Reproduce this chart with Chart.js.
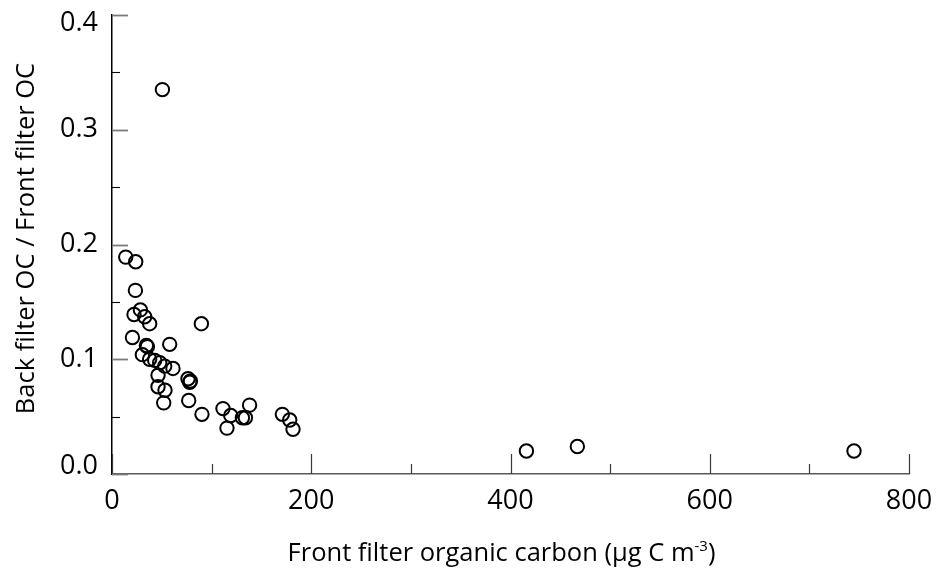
<!DOCTYPE html>
<html>
<head>
<meta charset="utf-8">
<script src="https://cdn.jsdelivr.net/npm/chart.js@4.4.1/dist/chart.umd.min.js"></script>
<style>
  html, body { margin: 0; padding: 0; background: #ffffff; }
  #wrap { width: 936px; height: 583px; }
</style>
</head>
<body>
<div id="wrap"><canvas id="c" width="936" height="583"></canvas></div>
<script>
// Front filter OC (µg C m-3) and back/front OC ratio for each sample
const frontOC = [13.8, 23.8, 23.5, 28.5, 22.1, 32.8, 37.8, 89.7, 20.5, 34.5,
                 35.5, 57.9, 30.5, 37.8, 42.9, 47.9, 52.9, 61.2, 46.2, 76.3,
                 78.7, 78.0, 46.2, 53.2, 51.9, 77.0, 90.3, 111.4, 119.2, 115.4,
                 130.9, 133.9, 138.1, 171.0, 178.4, 181.7, 50.6, 416.0, 467.1, 744.8];
const ocRatio = [0.189, 0.185, 0.160, 0.143, 0.139, 0.137, 0.131, 0.131, 0.119, 0.112,
                 0.111, 0.113, 0.104, 0.100, 0.099, 0.097, 0.094, 0.092, 0.086, 0.083,
                 0.081, 0.080, 0.076, 0.073, 0.062, 0.064, 0.052, 0.057, 0.051, 0.040,
                 0.049, 0.049, 0.060, 0.052, 0.047, 0.039, 0.335, 0.020, 0.024, 0.020];

const xLabelTicks = [0, 200, 400, 600, 800];
const yLabelTicks = [0.0, 0.1, 0.2, 0.3, 0.4];
const xMarkStep = 100;
const yMarkStep = 0.05;

const xTitleMain = 'Front filter organic carbon (µg C m';
const xTitleSup = '-3';
const xTitleEnd = ')';
const yTitle = 'Back filter OC / Front filter OC';

const FONT = '"Open Sans", "Noto Sans", sans-serif';
const FONT_SIZE = 27;
const TITLE_SIZE = 25.5;

// inward tick marks, y tick labels and both axis titles
const axisDecor = {
  id: 'axisDecor',
  afterDraw(chart) {
    const ctx = chart.ctx;
    const xs = chart.scales.x, ys = chart.scales.y;
    const area = chart.chartArea;
    ctx.save();

    // x-axis tick marks pointing up into the plot
    for (let v = xs.min; v <= xs.max + 1e-9; v += xMarkStep) {
      const px = Math.round(xs.getPixelForValue(v)) + 0.5;
      const major = Math.abs(v % 200) < 1e-6;
      ctx.strokeStyle = '#3a3a3a';
      ctx.lineWidth = 1.2;
      ctx.beginPath();
      ctx.moveTo(px, area.bottom);
      ctx.lineTo(px, area.bottom - (major ? 20 : 10));
      ctx.stroke();
    }

    // y-axis tick marks pointing right into the plot
    for (let i = 0; i * yMarkStep <= ys.max + 1e-9; i++) {
      const v = i * yMarkStep;
      const py = Math.round(ys.getPixelForValue(v)) + 0.5;
      const major = i % 2 === 0;
      ctx.strokeStyle = major ? '#7a7a7a' : '#000000';
      ctx.lineWidth = major ? 1.8 : 1.1;
      ctx.beginPath();
      ctx.moveTo(area.left, py);
      ctx.lineTo(area.left + (major ? 16 : 8), py);
      ctx.stroke();
    }

    // y tick labels, kept inside the axis extent
    ctx.fillStyle = '#000000';
    ctx.font = FONT_SIZE + 'px ' + FONT;
    ctx.textAlign = 'right';
    ctx.textBaseline = 'middle';
    yLabelTicks.forEach(v => {
      let py = ys.getPixelForValue(v);
      py = Math.max(area.top + 8, Math.min(area.bottom - 8, py));
      ctx.fillText(v.toFixed(1), area.left - 14, py);
    });

    // x title with superscript exponent
    ctx.textAlign = 'left';
    ctx.textBaseline = 'alphabetic';
    const mainFont = TITLE_SIZE + 'px ' + FONT;
    const supFont = '15px ' + FONT;
    ctx.font = mainFont;
    const w1 = ctx.measureText(xTitleMain).width;
    const w3 = ctx.measureText(xTitleEnd).width;
    ctx.font = supFont;
    const w2 = ctx.measureText(xTitleSup).width;
    const total = w1 + w2 + w3;
    const cx = (area.left + area.right) / 2 - 9;
    let tx = cx - total / 2;
    const baseY = 561;
    ctx.font = mainFont;
    ctx.fillText(xTitleMain, tx, baseY);
    tx += w1;
    ctx.font = supFont;
    ctx.fillText(xTitleSup, tx, baseY - 10);
    tx += w2;
    ctx.font = mainFont;
    ctx.fillText(xTitleEnd, tx, baseY);

    // y title, rotated
    ctx.save();
    ctx.translate(27, (area.top + area.bottom) / 2 - 6);
    ctx.rotate(-Math.PI / 2);
    ctx.textAlign = 'center';
    ctx.textBaseline = 'middle';
    ctx.font = TITLE_SIZE + 'px ' + FONT;
    ctx.fillText(yTitle, 0, 0);
    ctx.restore();

    ctx.restore();
  }
};

new Chart(document.getElementById('c'), {
  type: 'scatter',
  data: {
    datasets: [{
      data: frontOC.map((x, i) => ({ x: x, y: ocRatio[i] })),
      pointStyle: 'circle',
      pointRadius: 6.7,
      pointHoverRadius: 6.7,
      pointBorderWidth: 2,
      pointBorderColor: '#000000',
      pointBackgroundColor: 'rgba(0,0,0,0)'
    }]
  },
  options: {
    responsive: false,
    devicePixelRatio: 1,
    animation: false,
    events: [],
    layout: { padding: { top: 15, right: 27, left: 0, bottom: 0 } },
    plugins: { legend: { display: false }, tooltip: { enabled: false } },
    scales: {
      x: {
        type: 'linear',
        min: 0,
        max: 800,
        afterBuildTicks: s => { s.ticks = xLabelTicks.map(v => ({ value: v })); },
        afterFit: s => { s.height = 109; s.paddingLeft = 0; s.paddingRight = 0; },
        grid: { display: false, drawTicks: false },
        border: { display: true, color: '#5a5a5a', width: 1.5 },
        ticks: {
          color: '#000000',
          font: { family: FONT, size: FONT_SIZE },
          padding: 11,
          maxRotation: 0,
          autoSkip: false
        }
      },
      y: {
        type: 'linear',
        min: 0,
        max: 0.4,
        afterFit: s => { s.width = 112; s.paddingTop = 0; s.paddingBottom = 0; },
        grid: { display: false, drawTicks: false },
        border: { display: true, color: '#000000', width: 1.5 },
        ticks: { display: false }
      }
    }
  },
  plugins: [axisDecor]
});
</script>
</body>
</html>
